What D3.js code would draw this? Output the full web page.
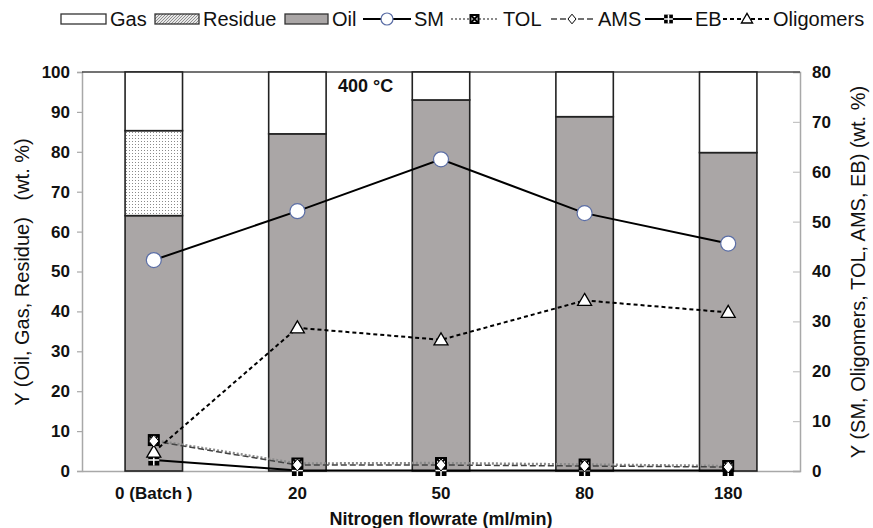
<!DOCTYPE html>
<html><head><meta charset="utf-8">
<script src="https://cdn.jsdelivr.net/npm/d3@7"></script>
<style>body{margin:0;background:#fff} text{font-family:Arial,"Liberation Sans",sans-serif;fill:#111}</style>
</head><body><svg id="c" width="873" height="528"></svg>
<script>
const categories = ["0 (Batch )","20","50","80","180"];
const oil = [64.0,84.5,93.0,88.8,79.8];
const residue = [21.3,0,0,0,0];
const gas = [14.7,15.5,7.0,11.2,20.2];
const sm = [42.3,52.1,62.5,51.7,45.6];
const tol = [6.2,1.5,1.6,1.3,1.0];
const ams = [6.0,1.2,1.2,1.0,0.8];
const eb = [2.2,0.1,0.1,0.1,0.1];
const oligomers = [3.8,28.7,26.3,34.2,31.8];
const leftTicks = [0,10,20,30,40,50,60,70,80,90,100];
const rightTicks = [0,10,20,30,40,50,60,70,80];

const svg = d3.select("#c");
const L=82,R=800,T=72,B=471;
const x = d3.scaleBand().domain(categories).range([L,R]).paddingInner(0.6).paddingOuter(0.3);
const yL = d3.scaleLinear().domain([0,100]).range([B,T]);
const yR = d3.scaleLinear().domain([0,80]).range([B,T]);

const defs = svg.append("defs");
const stip = defs.append("pattern").attr("id","stip").attr("patternUnits","userSpaceOnUse").attr("width",3).attr("height",3);
stip.append("rect").attr("width",3).attr("height",3).attr("fill","#fff");
stip.append("rect").attr("width",1).attr("height",1).attr("fill","#8a8a8a");
const hatch = defs.append("pattern").attr("id","hatch").attr("patternUnits","userSpaceOnUse").attr("width",3).attr("height",3);
hatch.append("rect").attr("width",3).attr("height",3).attr("fill","#e6e6e6");
hatch.append("path").attr("d","M0,3L3,0").attr("stroke","#777").attr("stroke-width",0.8);

const oilCol = "#aaa6a6";

// axes
const axL = svg.append("g").attr("transform",`translate(${L},0)`).call(d3.axisLeft(yL).tickValues(leftTicks).tickSize(5).tickPadding(7));
const axR = svg.append("g").attr("transform",`translate(${R},0)`).call(d3.axisRight(yR).tickValues(rightTicks).tickSize(-7).tickPadding(12));
[axL,axR].forEach(a=>{
  a.select(".domain").attr("stroke","#a8a8a8").attr("stroke-width",1.5);
  a.selectAll(".tick line").attr("stroke","#a8a8a8").attr("stroke-width",1.2);
  a.selectAll(".tick text").attr("font-size",17).attr("font-weight","bold").attr("fill","#111");
});
axR.selectAll(".tick line").attr("stroke","#c4c4c4");
const axB = svg.append("g").attr("transform",`translate(0,${B})`).call(d3.axisBottom(x).tickSize(0).tickPadding(16));
axB.select(".domain").attr("stroke","#a8a8a8").attr("stroke-width",1.5);
axB.selectAll(".tick text").attr("font-size",17).attr("font-weight","bold").attr("fill","#111");
svg.append("line").attr("x1",L).attr("x2",R).attr("y1",T).attr("y2",T).attr("stroke","#444").attr("stroke-width",1.5);

// bars
const stack = categories.map((c,i)=>({c, segs:[
  {v0:0,v1:oil[i],fill:oilCol},
  {v0:oil[i],v1:oil[i]+residue[i],fill:"url(#stip)"},
  {v0:oil[i]+residue[i],v1:oil[i]+residue[i]+gas[i],fill:"#fff"}]}));
const bg = svg.append("g");
stack.forEach(s=>{
  s.segs.filter(d=>d.v1>d.v0).forEach(d=>{
    bg.append("rect").attr("x",x(s.c)).attr("width",x.bandwidth())
      .attr("y",yL(d.v1)).attr("height",yL(d.v0)-yL(d.v1))
      .attr("fill",d.fill).attr("stroke","#222").attr("stroke-width",1.6);
  });
});

// markers
function marker(g,type,cx,cy,k){
  k = k||1;
  if(type==="circle"){
    g.append("circle").attr("cx",cx).attr("cy",cy).attr("r",7.5*k).attr("fill","#fff").attr("stroke","#5b6ea6").attr("stroke-width",1.2);
  } else if(type==="xbox"){
    const h=5*k;
    g.append("rect").attr("x",cx-h).attr("y",cy-h).attr("width",2*h).attr("height",2*h).attr("fill","#fff").attr("stroke","#000").attr("stroke-width",2);
    g.append("path").attr("d",`M${cx-h},${cy-h}L${cx+h},${cy+h}M${cx+h},${cy-h}L${cx-h},${cy+h}`).attr("stroke","#000").attr("stroke-width",2);
  } else if(type==="diamond"){
    const h=6*k, w=5*k;
    g.append("path").attr("d",`M${cx},${cy-h}L${cx+w},${cy}L${cx},${cy+h}L${cx-w},${cy}Z`).attr("fill","#fff").attr("stroke","#000").attr("stroke-width",1);
  } else if(type==="eb"){
    const h=5.5*k;
    g.append("rect").attr("x",cx-h).attr("y",cy-h).attr("width",2*h).attr("height",2*h).attr("fill","#000");
    g.append("path").attr("d",`M${cx},${cy-h}V${cy+h}M${cx-h},${cy}H${cx+h}`).attr("stroke","#fff").attr("stroke-width",1.5);
  } else if(type==="tri"){
    g.append("path").attr("d",`M${cx},${cy-7*k}L${cx+7*k},${cy+5*k}L${cx-7*k},${cy+5*k}Z`).attr("fill","#fff").attr("stroke","#000").attr("stroke-width",1.3);
  }
}

const series = [
  {name:"SM",data:sm,type:"circle",stroke:"#000",dash:null,w:2},
  {name:"TOL",data:tol,type:"xbox",stroke:"#8a8a8a",dash:"2,2",w:2.5},
  {name:"AMS",data:ams,type:"diamond",stroke:"#444",dash:"6,3",w:1.5},
  {name:"EB",data:eb,type:"eb",stroke:"#000",dash:null,w:2},
  {name:"Oligomers",data:oligomers,type:"tri",stroke:"#000",dash:"4,3",w:2}
];
const cx = c=>x(c)+x.bandwidth()/2;
const lg = svg.append("g");
series.forEach(s=>{
  const line = d3.line().x((d,i)=>cx(categories[i])).y(d=>yR(d));
  lg.append("path").datum(s.data).attr("d",line).attr("fill","none").attr("stroke",s.stroke)
    .attr("stroke-width",s.w).attr("stroke-dasharray",s.dash);
});
const mg = svg.append("g");
["eb","tri","xbox","diamond","circle"].forEach(t=>{
  const s = series.find(q=>q.type===t);
  s.data.forEach((d,i)=>marker(mg,t,cx(categories[i]),yR(d)));
});

// labels
svg.append("text").attr("x",338).attr("y",92).attr("font-size",18).attr("font-weight","bold").text("400 °C");
svg.append("text").attr("x",(L+R)/2).attr("y",525).attr("text-anchor","middle").attr("font-size",18).attr("font-weight","bold").text("Nitrogen flowrate (ml/min)");
svg.append("text").attr("transform","translate(29,272) rotate(-90)").attr("text-anchor","middle").attr("font-size",20)
  .style("white-space","pre").text("Y (Oil, Gas, Residue)   (wt. %)");
svg.append("text").attr("transform","translate(865,272) rotate(-90)").attr("text-anchor","middle").attr("font-size",20)
  .text("Y (SM, Oligomers, TOL, AMS, EB) (wt. %)");

// legend
const ly = 19;
const leg = svg.append("g");
const legItems = [
  {label:"Gas",kind:"rect",fill:"#fff",x0:61,x1:106,tx:110},
  {label:"Residue",kind:"rect",fill:"url(#hatch)",x0:155,x1:199,tx:203},
  {label:"Oil",kind:"rect",fill:oilCol,x0:285,x1:328,tx:332},
  {label:"SM",kind:"line",s:series[0],x0:363,x1:411,tx:414},
  {label:"TOL",kind:"line",s:series[1],x0:451,x1:498,tx:503},
  {label:"AMS",kind:"line",s:series[2],x0:551,x1:593,tx:598},
  {label:"EB",kind:"line",s:series[3],x0:645,x1:692,tx:695},
  {label:"Oligomers",kind:"line",s:series[4],x0:723,x1:771,tx:773}
];
legItems.forEach(it=>{
  if(it.kind==="rect"){
    leg.append("rect").attr("x",it.x0).attr("y",ly-5).attr("width",it.x1-it.x0).attr("height",10)
      .attr("fill",it.fill).attr("stroke","#333").attr("stroke-width",1.3);
  } else {
    leg.append("line").attr("x1",it.x0).attr("x2",it.x1).attr("y1",ly).attr("y2",ly)
      .attr("stroke",it.s.stroke).attr("stroke-width",Math.min(it.s.w,1.8)).attr("stroke-dasharray",it.s.dash);
    marker(leg,it.s.type,(it.x0+it.x1)/2,ly,0.8);
  }
  leg.append("text").attr("x",it.tx).attr("y",ly+7).attr("font-size",20).attr("fill","#111").text(it.label);
});
</script></body></html>
